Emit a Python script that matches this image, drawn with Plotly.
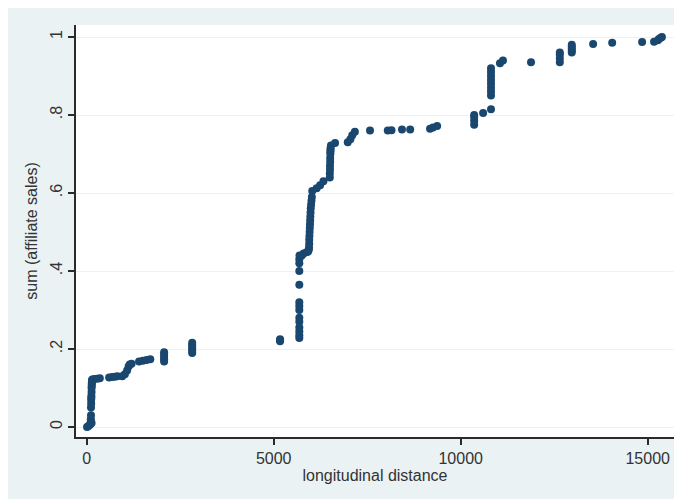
import plotly.graph_objects as go

# Data (longitudinal distance vs cumulative affiliate sales share)
dist = [
    10, 40, 80, 100, 130,
    110, 110, 115, 115, 120, 120, 125, 125, 130, 130, 135, 135, 140, 140, 145,
    150, 200, 280, 350,
    600, 680, 750, 820,
    950, 1020, 1080, 1120, 1150, 1200,
    1400, 1500, 1600, 1700,
    2070, 2070, 2070, 2070, 2070,
    2821, 2821, 2821, 2821, 2821, 2821,
    5170, 5170, 5170,
    5685, 5685, 5685, 5685, 5685, 5685, 5685, 5685, 5685, 5685, 5685, 5685, 5685, 5690,
    5750, 5800, 5880, 5920,
    5940, 5945, 5950, 5950, 5955, 5960, 5965, 5970, 5975, 5980, 5985, 5990, 6000, 6010, 6020, 6030,
    6150, 6240, 6330,
    6500, 6500, 6505, 6505, 6510, 6510, 6515, 6515, 6520, 6520, 6530,
    6640, 6980, 7050, 7100, 7170,
    7575, 8050, 8150, 8430, 8650, 9180, 9260, 9370,
    10360, 10360, 10360, 10360, 10600,
    10810, 10810, 10810, 10810, 10810, 10810, 10810, 10810, 10810,
    11050, 11130, 11880,
    12650, 12650, 12650, 12650,
    12970, 12970, 12970, 12970, 12970,
    13540, 14050, 14850, 15170, 15270, 15300, 15350, 15380,
]
share = [
    0.0, 0.002, 0.005, 0.008, 0.01,
    0.015, 0.02, 0.03, 0.05, 0.06, 0.07, 0.075, 0.08, 0.09, 0.1, 0.105, 0.11, 0.115, 0.118, 0.12,
    0.122, 0.123, 0.124, 0.125,
    0.127, 0.128, 0.129, 0.13,
    0.13, 0.135, 0.145, 0.155, 0.16, 0.162,
    0.168, 0.17, 0.172, 0.174,
    0.168, 0.174, 0.18, 0.186, 0.192,
    0.19, 0.195, 0.2, 0.205, 0.21, 0.216,
    0.22, 0.223, 0.225,
    0.228, 0.235, 0.245, 0.255, 0.27, 0.28, 0.3, 0.31, 0.32, 0.365, 0.4, 0.42, 0.43, 0.44,
    0.44, 0.445, 0.448, 0.45,
    0.455, 0.46, 0.47, 0.48, 0.49, 0.5, 0.51, 0.52, 0.53, 0.54, 0.55, 0.56, 0.57, 0.58, 0.59, 0.605,
    0.612, 0.62, 0.63,
    0.64, 0.65, 0.66, 0.67, 0.68, 0.69, 0.7, 0.705, 0.71, 0.715, 0.722,
    0.728, 0.73, 0.738, 0.748, 0.757,
    0.76, 0.76, 0.761, 0.763, 0.763, 0.765, 0.768, 0.772,
    0.775, 0.785, 0.795, 0.8, 0.805,
    0.815, 0.85, 0.86, 0.87, 0.88, 0.89, 0.9, 0.91, 0.92,
    0.933, 0.94, 0.935,
    0.935, 0.945, 0.955, 0.96,
    0.96, 0.965, 0.97, 0.975, 0.98,
    0.982, 0.985, 0.987, 0.988, 0.992, 0.995, 0.998, 1.0,
]

x_ticks = [0, 5000, 10000, 15000]
x_tick_text = ["0", "5000", "10000", "15000"]
y_ticks = [0, 0.2, 0.4, 0.6, 0.8, 1.0]
y_tick_text = ["0", ".2", ".4", ".6", ".8", "1"]

BG = "#EAF2F3"
NAVY = "#1a476f"
AX = "#2a2a2a"

fig = go.Figure()
fig.add_trace(go.Scatter(
    x=dist, y=share, mode="markers",
    marker=dict(color=NAVY, size=8, line=dict(width=0)),
    showlegend=False,
))

font = dict(family="Liberation Sans, Arial, sans-serif", size=16, color="#333")

fig.update_layout(
    width=682, height=499,
    margin=dict(l=68, r=16, t=17, b=70, pad=0),
    paper_bgcolor=BG,
    plot_bgcolor="white",
    font=font,
    xaxis=dict(
        range=[-286, 15703],
        tickmode="array", tickvals=x_ticks, ticktext=x_tick_text,
        ticks="outside", ticklen=6, tickcolor=AX, tickwidth=1.5,
        showgrid=False, zeroline=False,
        showline=True, linecolor=AX, linewidth=1.5,
        automargin=False,
        title=dict(text="longitudinal distance", standoff=0, font=font),
    ),
    yaxis=dict(
        range=[-0.0256, 1.0308],
        tickmode="array", tickvals=y_ticks, ticktext=y_tick_text,
        tickangle=-90,
        ticks="outside", ticklen=6, tickcolor=AX, tickwidth=1.5,
        showgrid=True, gridcolor=BG, gridwidth=1,
        zeroline=False,
        showline=True, linecolor=AX, linewidth=1.5,
        automargin=False,
        title=dict(text="sum (affiliate sales)", standoff=6, font=font),
    ),
)

fig.write_html("out.html")
